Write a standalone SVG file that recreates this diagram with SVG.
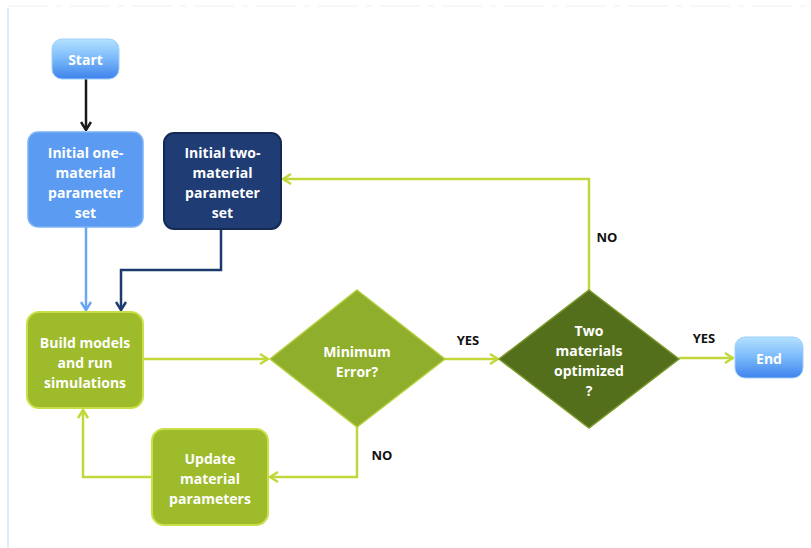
<svg xmlns="http://www.w3.org/2000/svg" width="811" height="548" viewBox="0 0 811 548">
  <defs>
    <linearGradient id="terminal" x1="0" y1="0" x2="0" y2="1">
      <stop offset="0" stop-color="#b4e2ff"/>
      <stop offset="0.5" stop-color="#79b8fa"/>
      <stop offset="1" stop-color="#3f82ec"/>
    </linearGradient>
    <marker id="ah-black" viewBox="0 0 12 12" refX="11" refY="6" markerWidth="12" markerHeight="12" markerUnits="userSpaceOnUse" orient="auto">
      <path d="M3,1 L11,6 L3,11" fill="none" stroke="#1a1a1a" stroke-width="2.5"/>
    </marker>
    <marker id="ah-light" viewBox="0 0 12 12" refX="11" refY="6" markerWidth="12" markerHeight="12" markerUnits="userSpaceOnUse" orient="auto">
      <path d="M3,1 L11,6 L3,11" fill="none" stroke="#6aa6f2" stroke-width="2.5"/>
    </marker>
    <marker id="ah-navy" viewBox="0 0 12 12" refX="11" refY="6" markerWidth="12" markerHeight="12" markerUnits="userSpaceOnUse" orient="auto">
      <path d="M3,1 L11,6 L3,11" fill="none" stroke="#1d3a6e" stroke-width="2.5"/>
    </marker>
    <marker id="ah-green" viewBox="0 0 12 12" refX="11" refY="6" markerWidth="12" markerHeight="12" markerUnits="userSpaceOnUse" orient="auto">
      <path d="M3,1 L11,6 L3,11" fill="none" stroke="#c2d83a" stroke-width="2.5"/>
    </marker>
  </defs>
  <style>
    .lbl { font-family: "Open Sans", "Liberation Sans", sans-serif; font-weight: bold; font-size: 14px; fill: #ffffff; text-anchor: middle; dominant-baseline: central; }
    .tag { font-family: "Open Sans", "Liberation Sans", sans-serif; font-weight: bold; font-size: 13px; fill: #111111; text-anchor: middle; dominant-baseline: central; }
    .terminal { fill: url(#terminal); stroke: #9fd0fb; stroke-width: 1; }
    .light { fill: #5b9cf2; stroke: #7db2f5; stroke-width: 1.5; }
    .navy { fill: #1f3c74; stroke: #142a55; stroke-width: 2; }
    .green { fill: #9dbb2a; stroke: #c9df48; stroke-width: 2; }
    .diamond1 { fill: #8fae2c; stroke: #b5cf3c; stroke-width: 1.5; }
    .diamond2 { fill: #546f1c; stroke: #7c9a2a; stroke-width: 1.5; }
    .conn { fill: none; stroke-width: 2.5; }
  </style>

  <!-- page frame -->
  <rect x="0" y="0" width="811" height="548" fill="#ffffff"/>
  <line x1="8" y1="8" x2="8" y2="548" stroke="#c6e1f7" stroke-width="1.2"/>
  <line x1="8" y1="6" x2="811" y2="6" stroke="#eef0f2" stroke-width="1" stroke-dasharray="40 8 6 8"/>

  <!-- connectors -->
  <g id="connectors">
    <path class="conn" stroke="#1a1a1a" d="M86,79 V130" marker-end="url(#ah-black)"/>
    <path class="conn" stroke="#6aa6f2" d="M86,227 V310" marker-end="url(#ah-light)"/>
    <path class="conn" stroke="#1d3a6e" d="M221,229 V270 H121 V310" marker-end="url(#ah-navy)"/>
    <path class="conn" stroke="#c2d83a" d="M143,359 H268" marker-end="url(#ah-green)"/>
    <path class="conn" stroke="#c2d83a" d="M445,359 H498" marker-end="url(#ah-green)"/>
    <path class="conn" stroke="#c2d83a" d="M679,358 H733" marker-end="url(#ah-green)"/>
    <path class="conn" stroke="#c2d83a" d="M357,427 V477 H270" marker-end="url(#ah-green)"/>
    <path class="conn" stroke="#c2d83a" d="M152,477 H83 V410" marker-end="url(#ah-green)"/>
    <path class="conn" stroke="#c2d83a" d="M589,290 V179 H283" marker-end="url(#ah-green)"/>
    <text class="tag" x="468" y="340">YES</text>
    <text class="tag" x="382" y="455">NO</text>
    <text class="tag" x="607" y="237">NO</text>
    <text class="tag" x="704" y="338">YES</text>
  </g>

  <g id="start">
    <rect class="terminal" x="52" y="39" width="67" height="40" rx="10"/>
    <text class="lbl" x="85.5" y="59">Start</text>
  </g>

  <g id="init-one">
    <rect class="light" x="28" y="132" width="115" height="95" rx="10"/>
    <text class="lbl" x="85.5" y="152">Initial one-</text>
    <text class="lbl" x="85.5" y="172">material</text>
    <text class="lbl" x="85.5" y="192">parameter</text>
    <text class="lbl" x="85.5" y="212">set</text>
  </g>

  <g id="init-two">
    <rect class="navy" x="164" y="133" width="117" height="96" rx="10"/>
    <text class="lbl" x="222.5" y="152">Initial two-</text>
    <text class="lbl" x="222.5" y="172">material</text>
    <text class="lbl" x="222.5" y="192">parameter</text>
    <text class="lbl" x="222.5" y="212">set</text>
  </g>

  <g id="build">
    <rect class="green" x="27" y="312" width="116" height="96" rx="12"/>
    <text class="lbl" x="85" y="342">Build models</text>
    <text class="lbl" x="85" y="362">and run</text>
    <text class="lbl" x="85" y="382">simulations</text>
  </g>

  <g id="update">
    <rect class="green" x="152" y="429" width="116" height="96" rx="12"/>
    <text class="lbl" x="210" y="458">Update</text>
    <text class="lbl" x="210" y="478">material</text>
    <text class="lbl" x="210" y="498">parameters</text>
  </g>

  <g id="min-error">
    <polygon class="diamond1" points="357,290 445,359 357,427 270,359"/>
    <text class="lbl" x="357" y="351">Minimum</text>
    <text class="lbl" x="357" y="371">Error?</text>
  </g>

  <g id="two-optimized">
    <polygon class="diamond2" points="589,290 679,359 589,428 499,359"/>
    <text class="lbl" x="589" y="330">Two</text>
    <text class="lbl" x="589" y="350">materials</text>
    <text class="lbl" x="589" y="370">optimized</text>
    <text class="lbl" x="589" y="390">?</text>
  </g>

  <g id="end">
    <rect class="terminal" x="735" y="337" width="68" height="41" rx="10"/>
    <text class="lbl" x="769" y="358">End</text>
  </g>
</svg>
